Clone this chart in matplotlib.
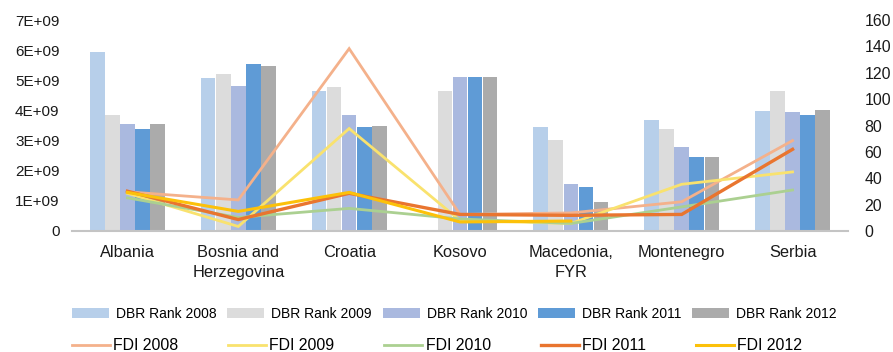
import numpy as np
import matplotlib
matplotlib.use("Agg")
import matplotlib.pyplot as plt
from matplotlib.ticker import FuncFormatter

plt.rcParams["font.family"] = ["Liberation Sans", "DejaVu Sans"]

countries = ["Albania", "Bosnia and\nHerzegovina", "Croatia", "Kosovo",
             "Macedonia,\nFYR", "Montenegro", "Serbia"]

# Doing Business rank (right axis)
dbr_2008 = [136, 116, 106, 0, 79, 84, 91]
dbr_2009 = [88, 119, 109, 106, 69, 77, 106]
dbr_2010 = [81, 110, 88, 117, 36, 64, 90]
dbr_2011 = [77, 127, 79, 117, 33, 56, 88]
dbr_2012 = [81, 125, 80, 117, 22, 56, 92]

# FDI inflows, USD (left axis)
fdi_2008 = [1.30e9, 1.03e9, 6.05e9, 0.55e9, 0.60e9, 0.97e9, 3.00e9]
fdi_2009 = [1.25e9, 0.15e9, 3.40e9, 0.35e9, 0.25e9, 1.55e9, 1.96e9]
fdi_2010 = [1.10e9, 0.45e9, 0.75e9, 0.40e9, 0.25e9, 0.80e9, 1.36e9]
fdi_2011 = [1.32e9, 0.38e9, 1.25e9, 0.55e9, 0.52e9, 0.55e9, 2.71e9]
fdi_2012 = [1.28e9, 0.65e9, 1.28e9, 0.30e9, 0.33e9, np.nan, np.nan]

bar_series = [("DBR Rank 2008", dbr_2008, "#b7cfea"),
              ("DBR Rank 2009", dbr_2009, "#dcdcdc"),
              ("DBR Rank 2010", dbr_2010, "#aab9df"),
              ("DBR Rank 2011", dbr_2011, "#5f9bd6"),
              ("DBR Rank 2012", dbr_2012, "#ababab")]
line_series = [("FDI 2008", fdi_2008, "#f4b18b", 2.0),
               ("FDI 2009", fdi_2009, "#f9e26e", 2.0),
               ("FDI 2010", fdi_2010, "#abd091", 2.0),
               ("FDI 2011", fdi_2011, "#e9752f", 2.4),
               ("FDI 2012", fdi_2012, "#fcc10a", 2.2)]

fig = plt.figure(figsize=(8.93, 3.52), dpi=100)
ax = fig.add_axes([72 / 893, 121 / 352, 776 / 893, 211 / 352])
ax2 = ax.twinx()

x = np.arange(len(countries))
w = 0.136
bar_handles = []
for i, (name, vals, col) in enumerate(bar_series):
    h = ax2.bar(x + (i - 2) * w, vals, width=w * 0.97, color=col, label=name)
    bar_handles.append(h)

line_handles = []
for name, vals, col, lw in line_series:
    (h,) = ax.plot(x, vals, color=col, lw=lw, label=name, solid_joinstyle="miter")
    line_handles.append(h)

# lines above bars
ax.set_zorder(ax2.get_zorder() + 1)
ax.patch.set_visible(False)

ax.set_xlim(-0.5, 6.5)
ax.set_ylim(0, 7e9)
ax2.set_ylim(0, 160)
ax.set_yticks(np.arange(0, 8e9, 1e9))
ax2.set_yticks(np.arange(0, 161, 20))
ax.yaxis.set_major_formatter(
    FuncFormatter(lambda v, p: "0" if v == 0 else f"{int(round(v / 1e9))}E+09"))

ax.set_xticks(x)
ax.set_xticklabels(countries, linespacing=1.45)
ax.tick_params(axis="x", length=0, pad=10, labelsize=11.8, colors="#1a1a1a")
ax.tick_params(axis="y", length=0, pad=9, labelsize=11, colors="#1a1a1a")
ax2.tick_params(axis="y", length=0, pad=12, labelsize=11.4, colors="#1a1a1a")

for a in (ax, ax2):
    for s in ("top", "left", "right", "bottom"):
        a.spines[s].set_visible(False)
ax.spines["bottom"].set_visible(True)
ax.spines["bottom"].set_color("#c4c4c4")
ax.spines["bottom"].set_linewidth(1.5)

fig.legend(handles=bar_handles, loc="center left",
           bbox_to_anchor=(72 / 893, 1 - 314 / 352), ncol=5, frameon=False,
           fontsize=10, handlelength=2.65, handleheight=0.65, handletextpad=0.5,
           columnspacing=0.8, borderpad=0, borderaxespad=0)
fig.legend(handles=line_handles, loc="center left",
           bbox_to_anchor=(72 / 893, 1 - 346 / 352), ncol=5, frameon=False,
           fontsize=11.4, handlelength=2.4, handletextpad=0.2,
           columnspacing=3.15, borderpad=0, borderaxespad=0)

fig.savefig("out.png", dpi=100)
